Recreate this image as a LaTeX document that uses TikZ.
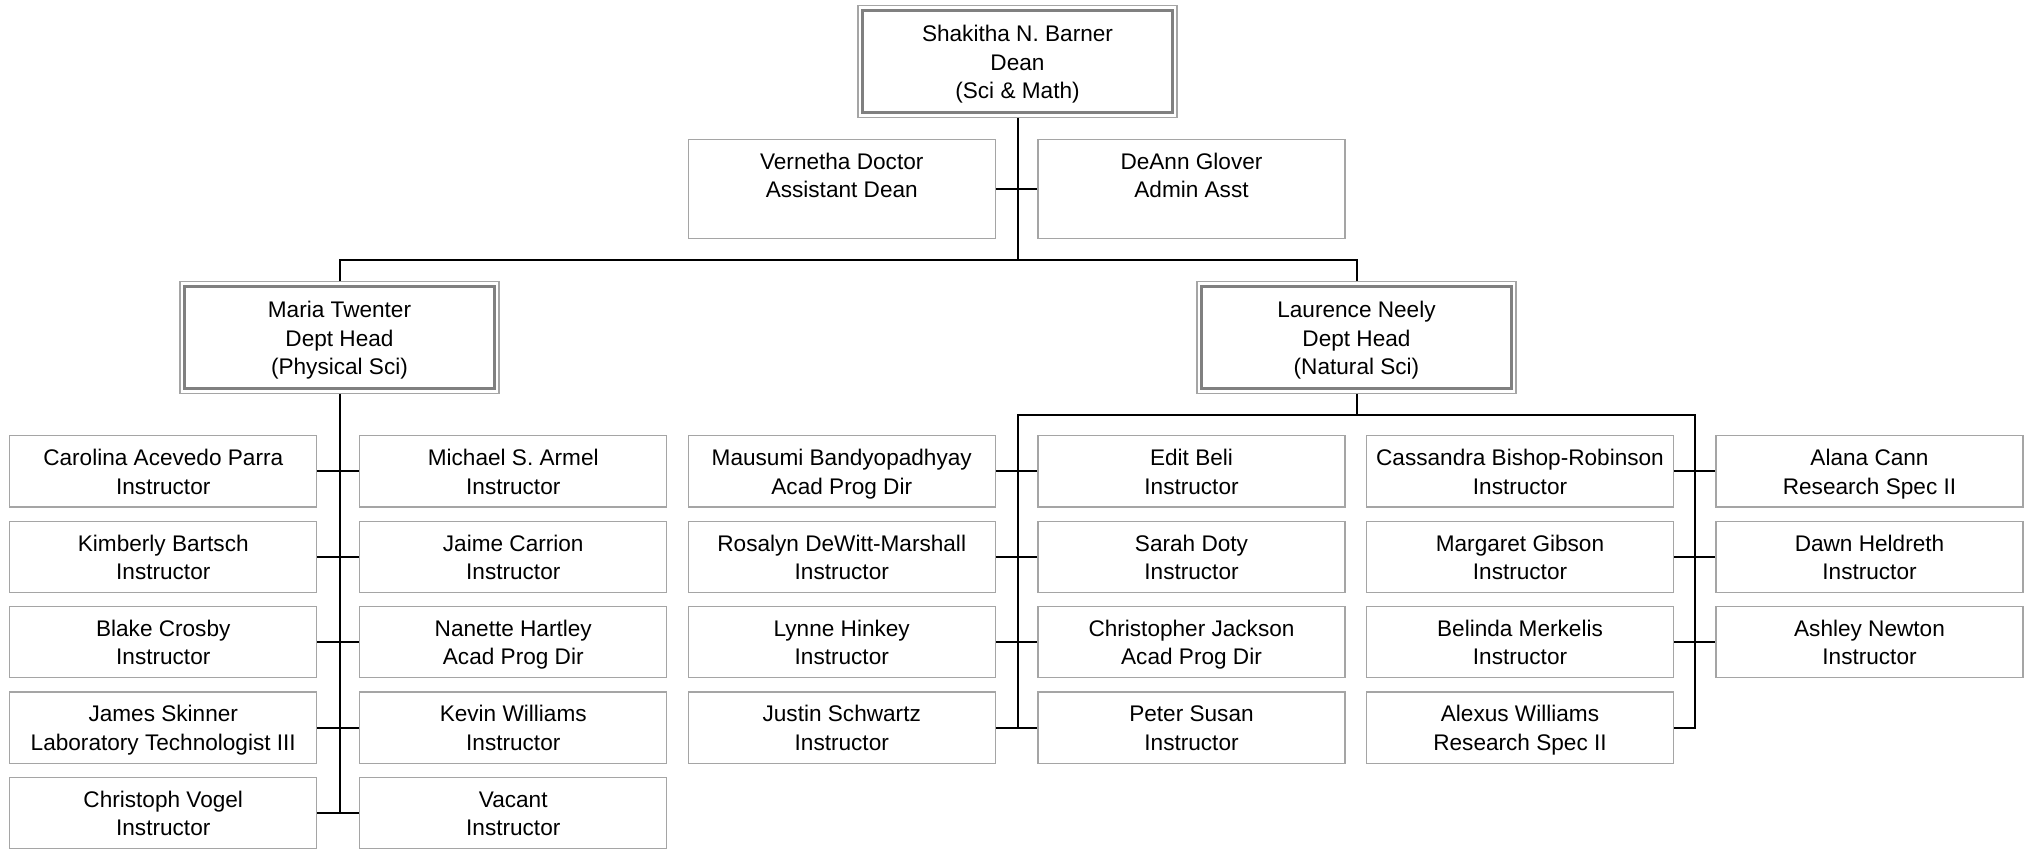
\documentclass[tikz,border=0pt]{standalone}
\usepackage{fontspec}
\setmainfont{Liberation Sans}
\usepackage{xcolor}
\usepackage{tikz}
\usetikzlibrary{calc}
\definecolor{boxgray}{RGB}{165,165,165}
\definecolor{headgray}{RGB}{128,128,128}
\newcommand{\twostrut}{\rule{0pt}{25.2pt}}
\newcommand{\threestrut}{\rule{0pt}{39.35pt}}
\newcommand{\botstrut}{\rule[-2.5pt]{0pt}{2.5pt}}

\begin{document}
\begin{tikzpicture}[x=0.5pt,y=-0.5pt,
	person/.style={draw=boxgray,line width=0.6pt,inner sep=0pt,minimum width=153.5pt,minimum height=35.65pt,align=center,font=\fontsize{11.3pt}{14.15pt}\selectfont,execute at begin node=\twostrut,execute at end node=\botstrut},
	aide/.style={person,minimum height=49.5pt,execute at begin node=\threestrut},
	head/.style={person,minimum width=159.5pt,minimum height=55.8pt,execute at begin node=\threestrut},
	inframe/.style={draw=headgray,line width=1.5pt},
	link/.style={draw=black,line width=1pt}]
	\useasboundingbox (0,0) rectangle (2026,848);
	% dean and staff
	\node[head] (barner) at (1017.5,61.5) {Shakitha N. Barner\\Dean\\(Sci \& Math)};
	\node[aide] (vdoctor) at (841.75,188.8) {Vernetha Doctor\\Assistant Dean\\~};
	\node[aide] (glover) at (1191.5,188.8) {DeAnn Glover\\Admin Asst\\~};
	\node[head] (twenter) at (339.5,337.5) {Maria Twenter\\Dept Head\\(Physical Sci)};
	\node[head] (neely) at (1356.5,337.5) {Laurence Neely\\Dept Head\\(Natural Sci)};
	\foreach \h in {barner,twenter,neely}
		\draw[inframe] ([shift={(5.5,5.5)}]\h.north west) rectangle ([shift={(-5.5,-5.5)}]\h.south east);
	% physical sci
	\node[person] (parra) at (163.25,471.35) {Carolina Acevedo Parra\\Instructor};
	\node[person] (armel) at (513.25,471.35) {Michael S. Armel\\Instructor};
	\node[person] (bartsch) at (163.25,556.75) {Kimberly Bartsch\\Instructor};
	\node[person] (carrion) at (513.25,556.75) {Jaime Carrion\\Instructor};
	\node[person] (crosby) at (163.25,642.15) {Blake Crosby\\Instructor};
	\node[person] (hartley) at (513.25,642.15) {Nanette Hartley\\Acad Prog Dir};
	\node[person] (skinner) at (163.25,727.55) {James Skinner\\Laboratory Technologist III};
	\node[person] (kwilliams) at (513.25,727.55) {Kevin Williams\\Instructor};
	\node[person] (vogel) at (163.25,812.95) {Christoph Vogel\\Instructor};
	\node[person] (vacant) at (513.25,812.95) {Vacant\\Instructor};
	% natural sci
	\node[person] (bandy) at (841.75,471.35) {Mausumi Bandyopadhyay\\Acad Prog Dir};
	\node[person] (beli) at (1191.5,471.35) {Edit Beli\\Instructor};
	\node[person] (dewitt) at (841.75,556.75) {Rosalyn DeWitt-Marshall\\Instructor};
	\node[person] (doty) at (1191.5,556.75) {Sarah Doty\\Instructor};
	\node[person] (hinkey) at (841.75,642.15) {Lynne Hinkey\\Instructor};
	\node[person] (jackson) at (1191.5,642.15) {Christopher Jackson\\Acad Prog Dir};
	\node[person] (schwartz) at (841.75,727.55) {Justin Schwartz\\Instructor};
	\node[person] (susan) at (1191.5,727.55) {Peter Susan\\Instructor};
	\node[person] (bishop) at (1520,471.35) {Cassandra Bishop-Robinson\\Instructor};
	\node[person] (cann) at (1869.5,471.35) {Alana Cann\\Research Spec II};
	\node[person] (gibson) at (1520,556.75) {Margaret Gibson\\Instructor};
	\node[person] (heldreth) at (1869.5,556.75) {Dawn Heldreth\\Instructor};
	\node[person] (merkelis) at (1520,642.15) {Belinda Merkelis\\Instructor};
	\node[person] (newton) at (1869.5,642.15) {Ashley Newton\\Instructor};
	\node[person] (awilliams) at (1520,727.55) {Alexus Williams\\Research Spec II};
	% lines
	\coordinate (topbus) at (1017.5,260);
	\coordinate (natL) at (1017.5,415);
	\coordinate (natR) at (1694.7,415);
	\draw[link] (barner.south) -- (topbus);
	\draw[link] (vdoctor.east) -- (glover.west);
	\draw[link] (twenter.north) |- (topbus) -| (neely.north);
	\draw[link] (twenter.south) -- (twenter.south |- vogel.east);
	\draw[link] (neely.south) -- (neely.south |- natL);
	\draw[link] (natL |- schwartz.east) -- (natL) -- (natR) |- (awilliams.east);
	\foreach \a/\b in {parra/armel,bartsch/carrion,crosby/hartley,skinner/kwilliams,vogel/vacant,bandy/beli,dewitt/doty,hinkey/jackson,schwartz/susan,bishop/cann,gibson/heldreth,merkelis/newton}
		\draw[link] (\a.east) -- (\b.west);
\end{tikzpicture}
\end{document}
